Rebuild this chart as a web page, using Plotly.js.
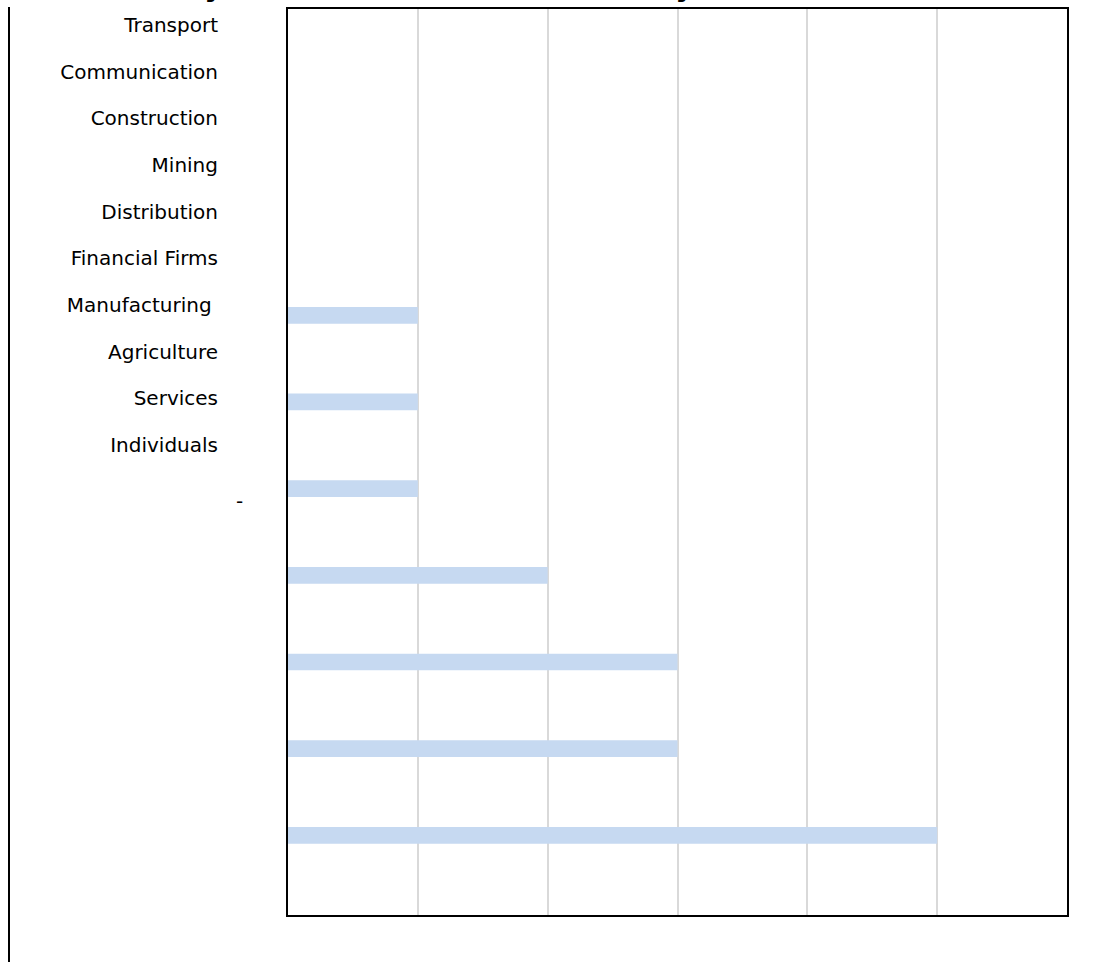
<!DOCTYPE html>
<html><head><meta charset="utf-8">
<script src="https://cdn.plot.ly/plotly-3.0.1.min.js"></script>
<style>html,body{margin:0;padding:0;background:#fff}#chart{width:1108px;height:962px}</style>
</head><body><div id="chart"></div>
<script>
const categories = ["Transport","Communication","Construction","Mining","Distribution","Financial Firms","Manufacturing","Agriculture","Services","Individuals"];
const labelText = ["Transport","Communication","Construction","Mining","Distribution","Financial Firms","Manufacturing\u00a0","Agriculture","Services","Individuals"];
const values = [0,0,0,1,1,1,2,3,3,5];
const xTicks = [0,1,2,3,4,5,6];
const titleText = "Industry Concentration of Loans (Qty)";
const strayLabel = "-";

const W = 1108, H = 962;
const px = v => v / W;
const py = v => 1 - v / H;

const bars = {
  type: "bar", orientation: "h",
  y: categories, x: values,
  width: 0.193,
  marker: {color: "#c6d9f1", line: {width: 0}},
  hoverinfo: "skip", showlegend: false
};
const labels = {
  type: "scatter", mode: "markers",
  x: categories.map(() => 0), y: categories,
  xaxis: "x2", yaxis: "y2",
  marker: {opacity: 0, size: 1},
  hoverinfo: "skip", showlegend: false
};

const layout = {
  width: W, height: H,
  margin: {l: 0, r: 0, t: 0, b: 0},
  paper_bgcolor: "#fff", plot_bgcolor: "#fff",
  showlegend: false,
  font: {family: "DejaVu Sans, Verdana, sans-serif", color: "#000"},
  xaxis: {
    domain: [px(288), px(1067)],
    range: [0, 6], tickmode: "array", tickvals: xTicks,
    showticklabels: false, ticks: "",
    showgrid: true, gridcolor: "#d9d9d9", gridwidth: 2,
    zeroline: false, showline: true, mirror: true, linecolor: "#000", linewidth: 2,
    fixedrange: true
  },
  yaxis: {
    domain: [py(915), py(9)],
    type: "category", categoryorder: "array", categoryarray: categories,
    range: [9.919, -0.534],
    showticklabels: false, ticks: "", showgrid: false, zeroline: false,
    showline: true, mirror: true, linecolor: "#000", linewidth: 2,
    fixedrange: true
  },
  xaxis2: {
    domain: [px(219), px(250)], anchor: "y2", visible: false, range: [0, 1]
  },
  yaxis2: {
    domain: [py(468.33), py(1.67)], anchor: "x2",
    type: "category", categoryorder: "array", categoryarray: categories,
    tickmode: "array", tickvals: categories, ticktext: labelText,
    range: [9.5, -0.5],
    showline: false, showgrid: false, zeroline: false, ticks: "",
    tickfont: {family: "DejaVu Sans, Verdana, sans-serif", size: 20, color: "#000"}
  },
  shapes: [{
    type: "line", xref: "paper", yref: "paper",
    x0: px(9), x1: px(9), y0: 0, y1: py(7),
    line: {color: "#000", width: 2}
  }],
  annotations: [
    {
      text: "<b>" + titleText + "</b>", xref: "paper", yref: "paper",
      x: px(84), y: py(5.5), xanchor: "left", yanchor: "bottom",
      showarrow: false, font: {family: "DejaVu Sans, Verdana, sans-serif", size: 29, color: "#000"}
    },
    {
      text: strayLabel, xref: "paper", yref: "paper",
      x: px(245), y: py(501), xanchor: "right", yanchor: "middle",
      showarrow: false, font: {family: "DejaVu Sans, Verdana, sans-serif", size: 20, color: "#000"}
    }
  ]
};

Plotly.newPlot("chart", [bars, labels], layout, {displayModeBar: false, staticPlot: true});
</script>
</body></html>
